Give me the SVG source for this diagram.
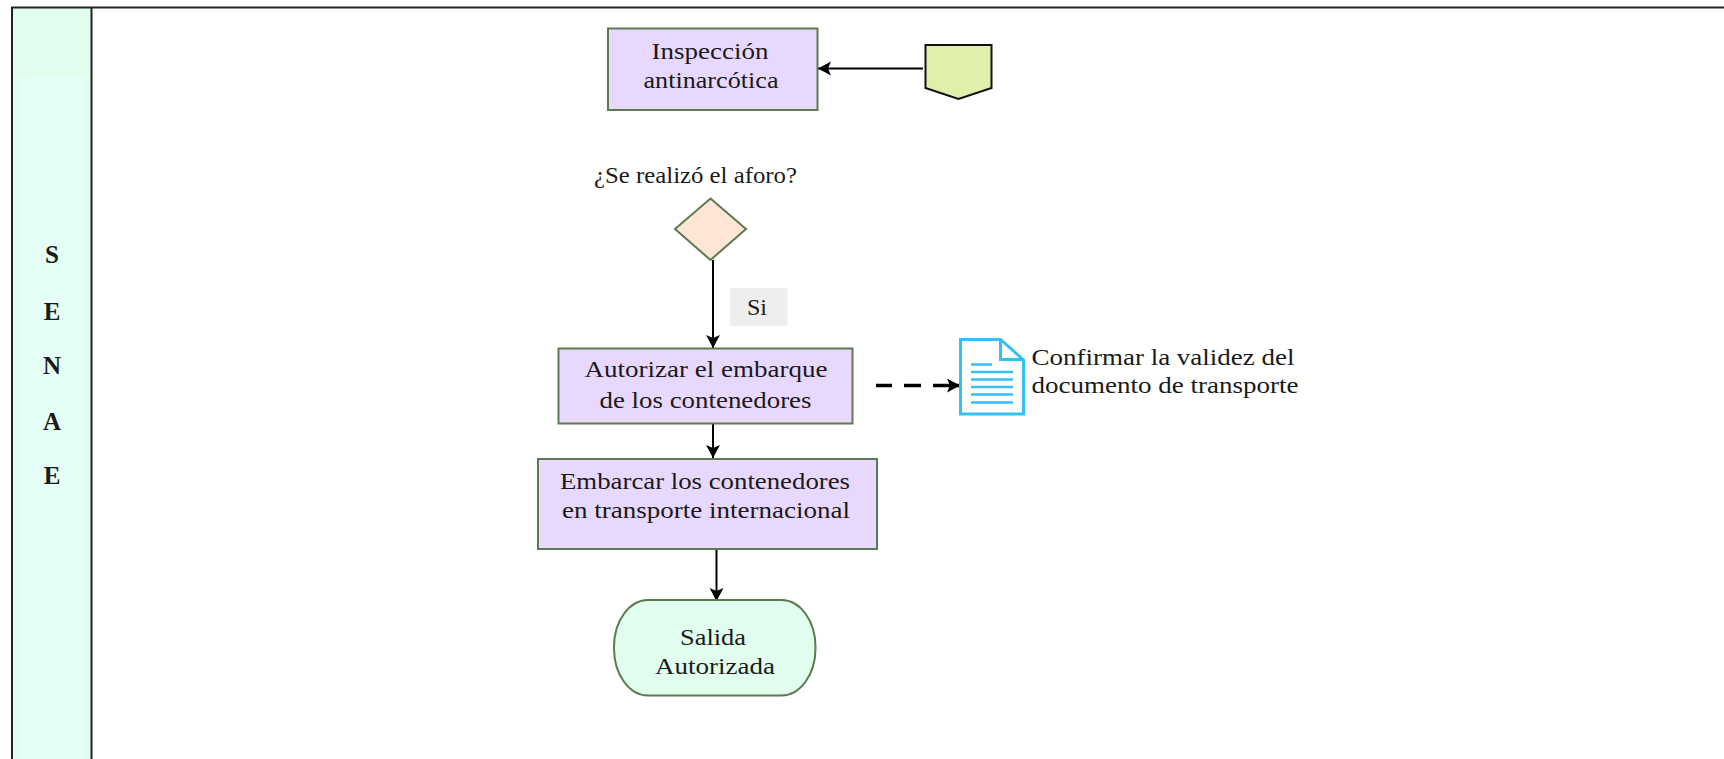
<svg xmlns="http://www.w3.org/2000/svg" width="1724" height="759" viewBox="0 0 1724 759">
<style>
text{font-family:"Liberation Serif","Times New Roman",serif;font-size:24px;fill:#1a1a1a;text-anchor:middle}
.n{stroke:#5c7a50;stroke-width:2}
.p{fill:#e9d8fd}
.c{fill:none;stroke:#000;stroke-width:2}
.dash{stroke-width:3.500}
.d{fill:none;stroke:#35c0f5;stroke-width:3}
.dl{fill:none;stroke:#35c0f5;stroke-width:2.500}
.b{font-weight:bold;font-size:25px}
</style>
<defs>
<marker id="a" markerUnits="userSpaceOnUse" markerWidth="16" markerHeight="16" refX="13" refY="7" orient="auto"><path d="M0 0L13 7L0 14L3 7Z" fill="#000"/></marker>
</defs>
<rect width="1724" height="759" fill="#fff"/>
<g id="lane">
<rect x="12" y="7" width="80" height="752" fill="#e0fdee"/>
<rect x="19" y="76" width="66" height="683" fill="#e6fff6"/>
<path d="M12 759V7.500H1724M91.500 7.500V759" fill="none" stroke="#222" stroke-width="2"/>
<text class="b" x="52" y="263">S</text>
<text class="b" x="52" y="320">E</text>
<text class="b" x="52" y="374">N</text>
<text class="b" x="52" y="430">A</text>
<text class="b" x="52" y="484">E</text>
</g>
<g id="connectors">
<path class="c" d="M923 68.500H818" marker-end="url(#a)"/>
<path class="c" d="M713 260V348" marker-end="url(#a)"/>
<path class="c" d="M713 423V458" marker-end="url(#a)"/>
<path class="c" d="M716.500 549V601" marker-end="url(#a)"/>
<path class="c dash" d="M876 385.500H892M904 385.500H921M933 385.500H960" marker-end="url(#a)"/>
</g>
<g id="inspeccion">
<rect class="n p" x="608" y="28.500" width="209.500" height="81.500"/>
<text x="710" y="59" textLength="117" lengthAdjust="spacingAndGlyphs">Inspección</text>
<text x="711" y="88" textLength="135" lengthAdjust="spacingAndGlyphs">antinarcótica</text>
</g>
<g id="offpage">
<path d="M925.500 45H991.500V88L958.500 99L925.500 88Z" fill="#e0efac" stroke="#111" stroke-width="2"/>
</g>
<g id="decision">
<text x="695.500" y="183" textLength="203" lengthAdjust="spacingAndGlyphs">¿Se realizó el aforo?</text>
<path class="n" d="M710.500 198.500L746 229L710.500 260L675 229Z" fill="#ffe5d6"/>
</g>
<g id="si">
<rect x="730" y="288" width="57.500" height="38" fill="#eeeeee"/>
<text x="757" y="315" textLength="20" lengthAdjust="spacingAndGlyphs">Si</text>
</g>
<g id="autorizar">
<rect class="n p" x="558.500" y="348.500" width="294" height="75"/>
<text x="706" y="377" textLength="243" lengthAdjust="spacingAndGlyphs">Autorizar el embarque</text>
<text x="705.500" y="408" textLength="212" lengthAdjust="spacingAndGlyphs">de los contenedores</text>
</g>
<g id="documento">
<path class="d" d="M960.500 339.500H1000.500L1023.500 360V414H960.500Z"/>
<path class="d" d="M1000.500 339.500V359.500H1023.500"/>
<path class="dl" d="M971 364.500H992M971 372H1013M971 379.500H1013M971 387H1013M971 394.500H1013M971 402.500H1013"/>
<text style="text-anchor:start" x="1031.500" y="365" textLength="263" lengthAdjust="spacingAndGlyphs">Confirmar la validez del</text>
<text style="text-anchor:start" x="1031.500" y="393" textLength="267" lengthAdjust="spacingAndGlyphs">documento de transporte</text>
</g>
<g id="embarcar">
<rect class="n p" x="538" y="459" width="339" height="90"/>
<text x="705" y="489" textLength="290" lengthAdjust="spacingAndGlyphs">Embarcar los contenedores</text>
<text x="706" y="518" textLength="288" lengthAdjust="spacingAndGlyphs">en transporte internacional</text>
</g>
<g id="salida">
<rect class="n" x="614" y="600" width="201.500" height="95.500" rx="34" ry="47" fill="#e0fdee"/>
<text x="713" y="645" textLength="66" lengthAdjust="spacingAndGlyphs">Salida</text>
<text x="715" y="674" textLength="120" lengthAdjust="spacingAndGlyphs">Autorizada</text>
</g>
</svg>
